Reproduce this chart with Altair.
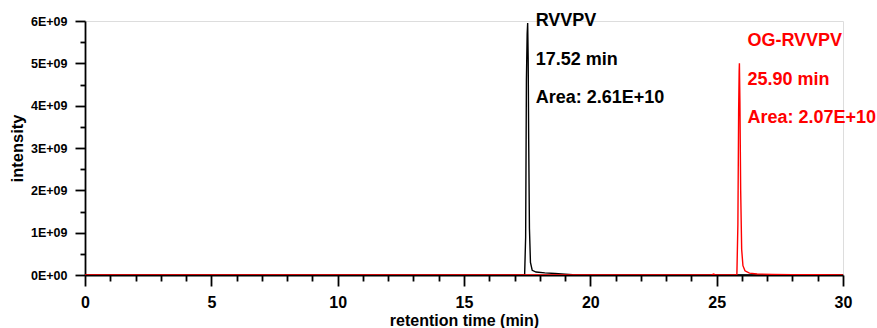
import altair as alt
import pandas as pd

# Chromatogram traces (retention time in min, intensity in counts)
rvvpv_time = [0.0, 5.0, 10.0, 15.0, 17.0, 17.40, 17.44, 17.47, 17.50, 17.52, 17.54, 17.56,
              17.59, 17.63, 17.70, 17.85, 18.2, 18.6, 19.0, 19.3, 20.0, 25.0, 30.0]
rvvpv_int = [2e6, 2e6, 2e6, 3e6, 4e6, 1e7, 9.0e8, 4.6e9, 5.7e9, 5.95e9, 5.1e9, 3.2e9,
             1.1e9, 3.0e8, 1.1e8, 7.0e7, 5.0e7, 3.5e7, 2.0e7, 8e6, 4e6, 3e6, 2e6]

og_time = [0.0, 5.0, 10.0, 15.0, 20.0, 24.8, 24.88, 24.95, 25.5, 25.80, 25.84, 25.87,
           25.89, 25.90, 25.92, 25.95, 25.99, 26.04, 26.12, 26.3, 26.6, 27.2, 28.0, 29.0, 30.0]
og_int = [3e6, 3e6, 3e6, 3e6, 3e6, 4e6, 2.2e7, 4e6, 4e6, 1e7, 1.2e9, 3.9e9,
          4.8e9, 5.0e9, 4.1e9, 2.0e9, 6.0e8, 2.2e8, 1.0e8, 4.5e7, 2.5e7, 1.5e7, 9e6, 6e6, 4e6]

series_names = ["RVVPV", "OG-RVVPV"]
series_colors = ["#000000", "#ff0000"]

# Peak annotations
peak_names = ["RVVPV", "OG-RVVPV"]
peak_rt = [17.52, 25.90]
peak_area = ["2.61E+10", "2.07E+10"]

rows = []
for t, v in zip(rvvpv_time, rvvpv_int):
    rows.append({"time": t, "intensity": v, "series": "RVVPV", "order": 0})
for t, v in zip(og_time, og_int):
    rows.append({"time": t, "intensity": v, "series": "OG-RVVPV", "order": 1})
df = pd.DataFrame(rows)

labels = []
for name, rt, area in zip(peak_names, peak_rt, peak_area):
    labels.append({"series": name, "time": rt, "line": 0, "text": name})
    labels.append({"series": name, "time": rt, "line": 1, "text": f"{rt:.2f} min"})
    labels.append({"series": name, "time": rt, "line": 2, "text": f"Area: {area}"})
lab = pd.DataFrame(labels)

FONT = "Liberation Sans"
color_scale = alt.Scale(domain=series_names, range=series_colors)
x_scale = alt.Scale(domain=[0, 30], nice=False)
y_scale = alt.Scale(domain=[0, 6e9], nice=False)

# Major ticks every 5 min / 1E+09, minor ticks in between (unlabelled, shorter)
x_label_expr = "datum.value % 5 == 0 ? format(datum.value, 'd') : ''"
y_label_expr = ("datum.value % 1e9 != 0 ? '' : (datum.value == 0 ? '0E+00' : "
                "format(datum.value / 1e9, '.0f') + 'E+09')")

x_tick_size = {"condition": {"test": "datum.value % 5 == 0", "value": 11}, "value": 6}
y_tick_size = {"condition": {"test": "datum.value % 1e9 == 0", "value": 10}, "value": 5}

x_axis = alt.Axis(title="retention time (min)", values=list(range(0, 31)),
                  labelExpr=x_label_expr, tickSize=x_tick_size, tickWidth=1.8,
                  domainWidth=1.8, domainColor="black", tickColor="black",
                  labelFont=FONT, labelFontSize=16, labelFontWeight="bold",
                  labelColor="black", labelPadding=8, labelOverlap=False,
                  labelFlush=False,
                  titleFont=FONT, titleFontSize=16, titleFontWeight="bold",
                  titleColor="black", titlePadding=2, grid=False)

y_axis = alt.Axis(title="intensity", values=[i * 0.5e9 for i in range(13)],
                  labelExpr=y_label_expr, tickSize=y_tick_size, tickWidth=1.8,
                  domainWidth=1.8, domainColor="black", tickColor="black",
                  labelFont=FONT, labelFontSize=12.5, labelFontWeight="bold",
                  labelColor="black", labelPadding=8, labelOverlap=False,
                  labelFlush=False,
                  titleFont=FONT, titleFontSize=16.5, titleFontWeight="bold",
                  titleColor="black", titlePadding=5, grid=False)

lines = alt.Chart(df).mark_line(strokeWidth=1.4, clip=True).encode(
    x=alt.X("time:Q", scale=x_scale, axis=x_axis),
    y=alt.Y("intensity:Q", scale=y_scale, axis=y_axis),
    color=alt.Color("series:N", scale=color_scale, legend=None),
    detail="series:N",
    order="order:Q",
)

# Peak labels: black stacked from the top, red starting one line lower
text = alt.Chart(lab).mark_text(align="left", baseline="middle", font=FONT,
                                fontSize=18, fontWeight="bold", dx=8).encode(
    x=alt.X("time:Q", scale=x_scale, axis=x_axis),
    y=alt.Y("ypix:Q", scale=None),
    text="text:N",
    color=alt.Color("series:N", scale=color_scale, legend=None),
).transform_calculate(
    ypix="(datum.series == 'RVVPV' ? 0 : 20) + datum.line * 38.5"
)

chart = alt.layer(lines, text).properties(
    width=758, height=254,
    autosize=alt.AutoSizeParams(type="none"),
    padding={"left": 85, "top": 21, "right": 34, "bottom": 53},
).configure_view(stroke=None).configure(background="white")

chart.save("out.html", embed_options={"renderer": "svg", "actions": False})
